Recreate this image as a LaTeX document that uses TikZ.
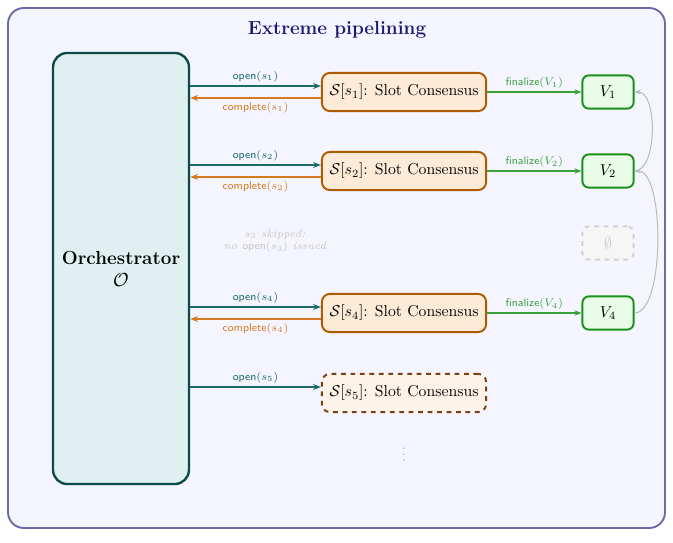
\documentclass[tikz,border=0pt]{standalone}
\usepackage{amsmath,amssymb}
\usepackage{tikz}
\usetikzlibrary{calc,arrows.meta}
\definecolor{frameline}{RGB}{107,107,168}
\definecolor{framefill}{RGB}{244,245,254}
\definecolor{titleblue}{RGB}{26,26,112}
\definecolor{orchline}{RGB}{11,74,74}
\definecolor{orchfill}{RGB}{224,240,240}
\definecolor{openteal}{RGB}{26,106,106}
\definecolor{complorange}{RGB}{213,122,32}
\definecolor{slotline}{RGB}{176,90,0}
\definecolor{slotfill}{RGB}{253,235,216}
\definecolor{pendline}{RGB}{122,64,16}
\definecolor{pendfill}{RGB}{253,243,232}
\definecolor{valline}{RGB}{26,143,26}
\definecolor{valfill}{RGB}{232,252,232}
\definecolor{fingreen}{RGB}{58,160,58}
\definecolor{chaingray}{RGB}{184,184,184}

\begin{document}
\begin{tikzpicture}[x=0.0223cm,y=-0.0223cm,
    orchbox/.style={draw=orchline,fill=orchfill,line width=1.5pt,rounded corners=9pt,
      minimum width=3.03cm,minimum height=9.61cm,align=center,font=\large},
    slotbox/.style={draw=slotline,fill=slotfill,line width=1.2pt,rounded corners=5pt,
      minimum width=3.66cm,minimum height=0.85cm},
    pendbox/.style={slotbox,draw=pendline,fill=pendfill,dashed},
    valbox/.style={draw=valline,fill=valfill,line width=1.2pt,rounded corners=4pt,
      minimum width=1.14cm,minimum height=0.74cm},
    nullbox/.style={valbox,draw=gray!35,fill=gray!7,text=gray!40,dashed},
    openarr/.style={draw=openteal,line width=0.9pt,-{Stealth[length=5pt]}},
    complarr/.style={draw=complorange,line width=0.9pt,-{Stealth[length=5pt]}},
    finarr/.style={draw=fingreen,line width=0.7pt,-{Stealth[length=4.5pt]}},
    chainarr/.style={draw=chaingray,line width=0.6pt,-{Stealth[length=4pt]}},
    lbl/.style={font=\scriptsize\sffamily,inner sep=2pt}]
      \useasboundingbox (0,0) rectangle (673,543);
      % outer frame and title
      \draw[frameline,fill=framefill,line width=1.2pt,rounded corners=10pt]
            (8,8) rectangle (665,528);
      \node[titleblue,font=\large\bfseries] (title) at (337,30) {Extreme pipelining};
      % orchestrator
      \node[orchbox] (orch) at (121,268.5) {\textbf{Orchestrator}\\ $\mathcal{O}$};
      % slot instances
      \node[slotbox] (s1) at (404,92)  {$\mathcal{S}[s_1]$: Slot Consensus};
      \node[slotbox] (s2) at (404,171) {$\mathcal{S}[s_2]$: Slot Consensus};
      \node[slotbox] (s4) at (404,313) {$\mathcal{S}[s_4]$: Slot Consensus};
      \node[pendbox] (s5) at (404,393) {$\mathcal{S}[s_5]$: Slot Consensus};
      % finalized values
      \node[valbox] (v1) at (608,92)  {$V_1$};
      \node[valbox] (v2) at (608,171) {$V_2$};
      \node[nullbox] (v3) at (608,243) {$\emptyset$};
      \node[valbox] (v4) at (608,313) {$V_4$};
      % open / complete
      \draw[openarr] ($(orch.east |- s1.west)+(0,3.8pt)$) -- node[lbl,above,text=openteal]{open$(s_1)$} ($(s1.west)+(0,3.8pt)$);
      \draw[complarr] ($(s1.west)+(0,-3.8pt)$) -- node[lbl,below,text=complorange]{complete$(s_1)$} ($(orch.east |- s1.west)+(0,-3.8pt)$);
      \draw[openarr] ($(orch.east |- s2.west)+(0,3.8pt)$) -- node[lbl,above,text=openteal]{open$(s_2)$} ($(s2.west)+(0,3.8pt)$);
      \draw[complarr] ($(s2.west)+(0,-3.8pt)$) -- node[lbl,below,text=complorange]{complete$(s_2)$} ($(orch.east |- s2.west)+(0,-3.8pt)$);
      \draw[openarr] ($(orch.east |- s4.west)+(0,3.8pt)$) -- node[lbl,above,text=openteal]{open$(s_4)$} ($(s4.west)+(0,3.8pt)$);
      \draw[complarr] ($(s4.west)+(0,-3.8pt)$) -- node[lbl,below,text=complorange]{complete$(s_4)$} ($(orch.east |- s4.west)+(0,-3.8pt)$);
      \draw[openarr] ($(orch.east |- s5.west)+(0,3.8pt)$) -- node[lbl,above,text=openteal]{open$(s_5)$} ($(s5.west)+(0,3.8pt)$);
      % skipped slot
      \node[font=\scriptsize\itshape,text=gray!45,align=center] (skip) at (275,241)
            {$s_3$ skipped:\\ no {\upshape\sffamily open}$(s_3)$ issued};
      % finalize
      \draw[finarr] (s1) -- node[lbl,above,text=fingreen]{finalize$(V_1)$} (v1);
      \draw[finarr] (s2) -- node[lbl,above,text=fingreen]{finalize$(V_2)$} (v2);
      \draw[finarr] (s4) -- node[lbl,above,text=fingreen]{finalize$(V_4)$} (v4);
      % chain links
      \draw[chainarr] (v2.east) to[out=0,in=0,looseness=0.75] (v1.east);
      \draw[chainarr] (v4.east) to[out=0,in=0,looseness=0.55] (v2.east);
      \node[text=gray!60,font=\small] (more) at (404,450) {$\vdots$};
    \end{tikzpicture}
\end{document}
